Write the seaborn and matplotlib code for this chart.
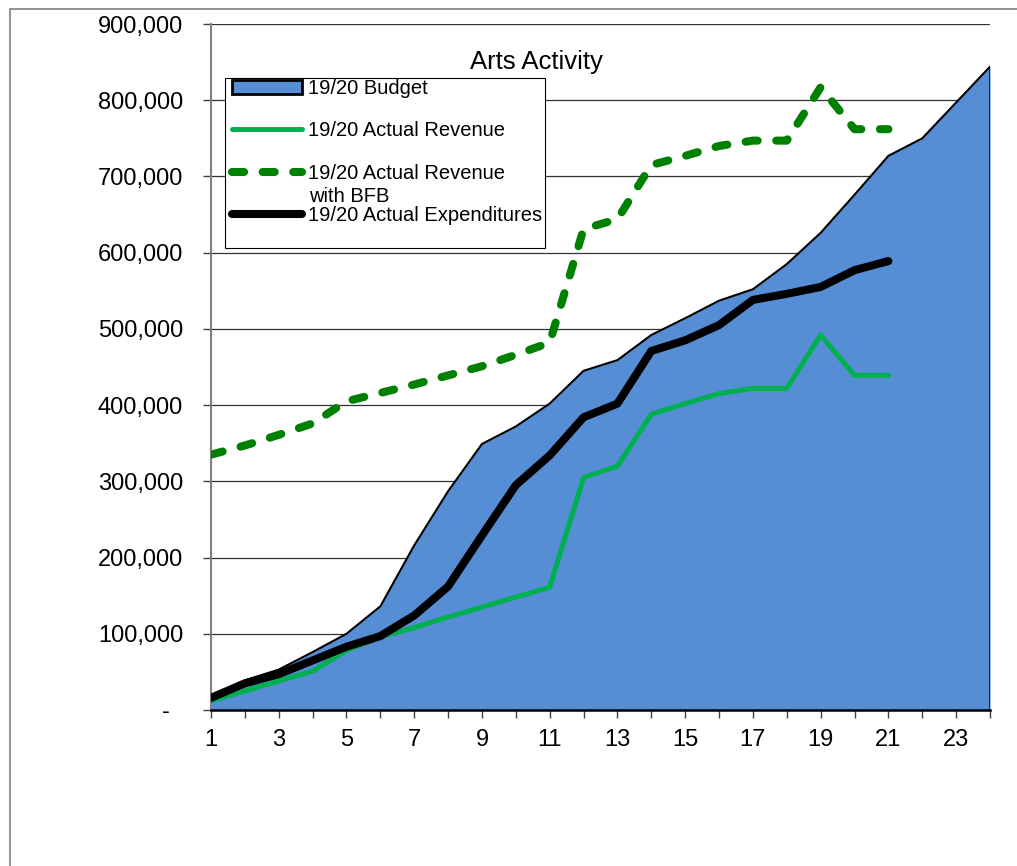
import matplotlib
matplotlib.use("Agg")
import matplotlib.pyplot as plt
import matplotlib.ticker as mticker
from matplotlib.patches import Patch, Rectangle
from matplotlib.lines import Line2D
import seaborn as sns
import pandas as pd

# ---- data ----
periods_budget = list(range(1, 25))
budget = [18000, 39000, 53000, 76000, 100000, 136000, 216000, 287000, 349000, 372000,
          402000, 445000, 459000, 492000, 514000, 537000, 552000, 585000, 626000, 676000,
          727000, 750000, 797000, 844000]

periods_actual = list(range(1, 22))
actual_revenue = [12000, 25000, 38000, 51000, 78000, 96000, 108000, 122000, 135000, 148000,
                  161000, 305000, 320000, 388000, 402000, 415000, 422000, 422000, 492000,
                  439000, 439000]
revenue_bfb = [335000, 347000, 361000, 376000, 405000, 416000, 427000, 439000, 451000, 466000,
               482000, 631000, 644000, 715000, 727000, 740000, 747000, 747000, 817000,
               762000, 762000]
expenditures = [16000, 35000, 47000, 65000, 83000, 97000, 124000, 162000, 229000, 295000,
                334000, 384000, 402000, 471000, 485000, 505000, 538000, 546000, 555000,
                577000, 589000]

title = "Arts Activity"
labels = ["19/20 Budget", "19/20 Actual Revenue", "19/20 Actual Revenue",
          "19/20 Actual Expenditures"]
label_extra = "with BFB"
x_ticks = list(range(1, 24, 2))
y_ticks = list(range(0, 900001, 100000))

df_b = pd.DataFrame({"period": periods_budget, "value": budget})
df_a = pd.DataFrame({"period": periods_actual, "rev": actual_revenue,
                     "bfb": revenue_bfb, "exp": expenditures})

# ---- style ----
sns.set_theme(style="white")
plt.rcParams["font.family"] = ["Liberation Sans", "DejaVu Sans"]
plt.rcParams["text.color"] = "black"
plt.rcParams["xtick.color"] = "black"
plt.rcParams["ytick.color"] = "black"

W, H = 1017, 866
fig = plt.figure(figsize=(W / 100, H / 100), dpi=100)
ax = fig.add_axes([211 / W, 1 - 710 / H, (990 - 211) / W, (710 - 24) / H])

blue = "#558ED5"
green = "#00B050"
dgreen = "#008000"

# budget area
ax.fill_between(df_b["period"], df_b["value"], 0, color=blue, linewidth=0, zorder=1)
sns.lineplot(data=df_b, x="period", y="value", ax=ax, color="black", linewidth=1.5, zorder=2)
ax.plot([periods_budget[-1], periods_budget[-1]], [0, budget[-1]], color="black",
        linewidth=1.8, zorder=2)

sns.lineplot(data=df_a, x="period", y="rev", ax=ax, color=green, linewidth=3.6, zorder=3)
sns.lineplot(data=df_a, x="period", y="exp", ax=ax, color="black", linewidth=5.8, zorder=4,
             solid_capstyle="round")
sns.lineplot(data=df_a, x="period", y="bfb", ax=ax, color=dgreen, linewidth=5.8, zorder=5)
bfb_line = ax.lines[-1]
bfb_line.set_dashes([1.5, 2.3])
bfb_line.set_dash_capstyle("round")

# axes
ax.set_xlim(1, 24)
ax.set_ylim(0, 900000)
ax.set_xlabel("")
ax.set_ylabel("")
ax.set_xticks(x_ticks)
ax.set_xticks(range(1, 25), minor=True)
ax.set_yticks(y_ticks)
ax.yaxis.set_major_formatter(mticker.FuncFormatter(
    lambda v, p: "-  " if v == 0 else f"{int(v):,}"))
ax.tick_params(axis="y", which="major", direction="out", length=6, width=1,
               color="#404040", labelcolor="black", labelsize=17, pad=14, left=True)
ax.tick_params(axis="x", which="both", direction="out", length=6, width=1,
               color="#404040", bottom=True)
ax.tick_params(axis="x", which="major", labelsize=17, labelcolor="black", pad=8)
ax.yaxis.grid(True, color="#333333", linewidth=0.9)
ax.set_axisbelow(True)
for s in ["top", "right"]:
    ax.spines[s].set_visible(False)
ax.spines["left"].set_color("#808080")
ax.spines["left"].set_linewidth(1.5)
ax.spines["bottom"].set_color("black")
ax.spines["bottom"].set_linewidth(1.8)
ax.spines["bottom"].set_zorder(6)

ax.text(536 / W, 1 - 62 / H, title, transform=fig.transFigure, ha="center", va="center",
        fontsize=18.5, color="black")

# legend (frame drawn separately to match the reference box)
frame = Rectangle((225 / W, 1 - 248 / H), (545 - 225) / W, (248 - 78) / H,
                  transform=fig.transFigure, facecolor="white",
                  edgecolor="black", linewidth=0.8, zorder=9, clip_on=False)
ax.add_artist(frame)
handles = [
    Patch(facecolor=blue, edgecolor="black", linewidth=2),
    Line2D([], [], color=green, linewidth=3.6),
    Line2D([], [], color=dgreen, linewidth=5.8, dashes=[1.5, 2.3], dash_capstyle="round"),
    Line2D([], [], color="black", linewidth=5.8),
]
leg = ax.legend(handles, labels, loc="upper left",
                bbox_to_anchor=(232 / W, 1 - 79 / H), bbox_transform=fig.transFigure,
                borderaxespad=0, fontsize=14.5, frameon=False,
                handlelength=3.5, handletextpad=0.25, labelspacing=1.16,
                borderpad=0)
leg.set_zorder(10)
ax.text(309 / W, 1 - 196 / H, label_extra, transform=fig.transFigure, fontsize=14.5,
        ha="left", va="center", color="black", zorder=11)

# outer chart border
fig.patches.append(Rectangle((10 / W, -0.1), 1.2, 1 - 9 / H + 0.1, transform=fig.transFigure,
                             fill=False, edgecolor="#808080", linewidth=1.2))

fig.savefig("out.png", dpi=100)
